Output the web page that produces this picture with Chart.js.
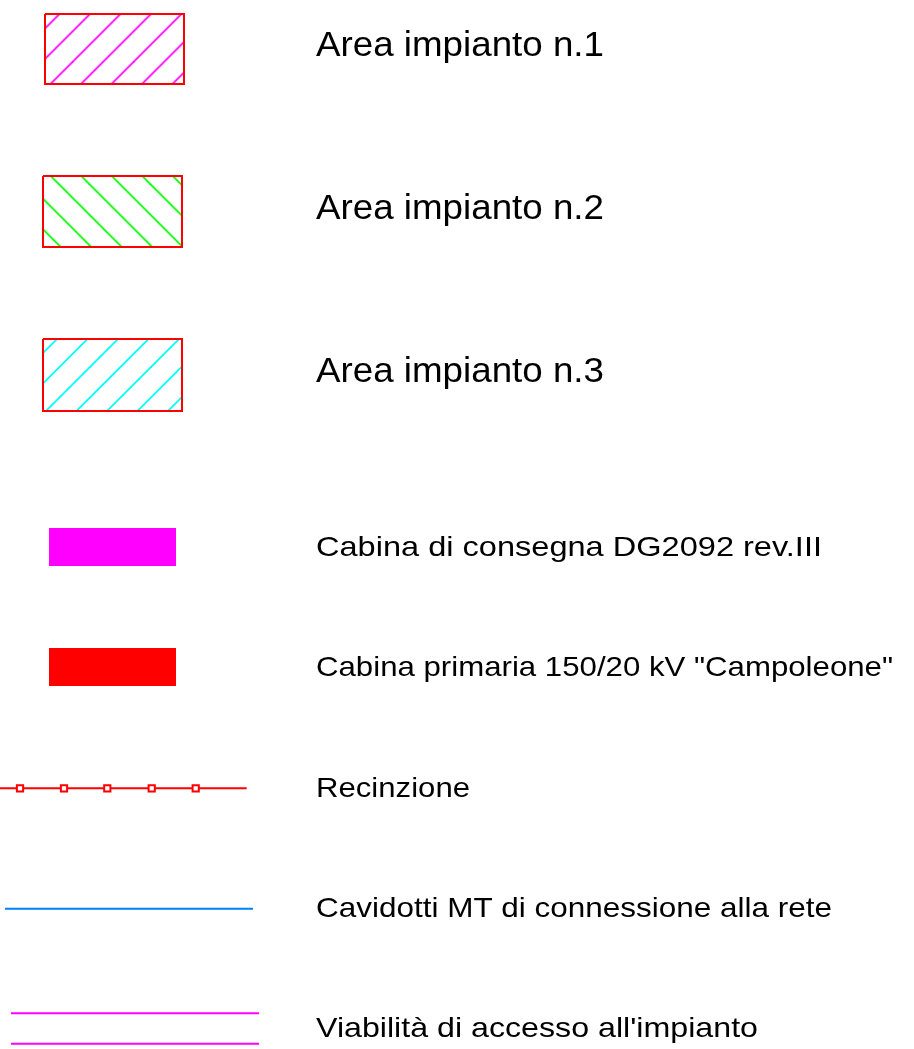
<!DOCTYPE html>
<html>
<head>
<meta charset="utf-8">
<script src="https://cdn.jsdelivr.net/npm/chart.js@4.4.0/dist/chart.umd.min.js"></script>
<style>
    html, body { margin: 0; padding: 0; background: #ffffff; }
    #legendChart { display: block; }
</style>
</head>
<body>
<canvas id="legendChart" width="914" height="1049"></canvas>
<script>
// Voci della legenda (testo, tipo di simbolo, colore)
const legendLabels = [
    'Area impianto n.1',
    'Area impianto n.2',
    'Area impianto n.3',
    'Cabina di consegna DG2092 rev.III',
    'Cabina primaria 150/20 kV "Campoleone"',
    'Recinzione',
    'Cavidotti MT di connessione alla rete',
    "Viabilità di accesso all'impianto"
];
const legendKinds = ['hatch', 'hatch', 'hatch', 'block', 'block', 'fence', 'line', 'road'];
const legendColors = ['#ff00ff', '#00ff00', '#00ffff', '#ff00ff', '#ff0000', '#ff0000', '#007fff', '#ff00ff'];
const hatchDirections = ['/', '\\', '/'];

// Impaginazione (coordinate del foglio, 1 unità = 1 px)
const sheetWidth = 914;
const sheetHeight = 1049;
const textX = 316;
const textBaselines = [56, 219, 382, 555.7, 676.3, 796.7, 916.7, 1037.3];
const textSizes = [35, 35, 35, 28, 28, 28, 28, 28];
const textRight = [604, 604, 604, 822, 893, 470, 832, 758];
const symbolBoxes = [
    [45, 14, 184, 84],
    [43, 176, 182, 247],
    [43, 339, 182, 411],
    [49, 528, 176, 566],
    [49, 648, 176, 686]
];
const hatchPhase = [12.4, 27.3, 30];
const fenceY = 788.3;
const fenceX = [0, 20, 64, 107.3, 151.7, 195.7, 246.7];
const cableY = 908.7;
const cableX = [5, 253];
const roadY = [1013.3, 1043.7];
const roadX = [11, 259];

// Tratteggio a 45° come pattern
function makeHatch(ctx, color, dir, phase) {
    const T = 61;
    const step = 30.5;
    const c = document.createElement('canvas');
    c.width = T;
    c.height = T;
    const g = c.getContext('2d');
    g.strokeStyle = color;
    g.lineWidth = 1.8;
    for (let k = -2; k <= 4; k++) {
        const s = k * step;
        g.beginPath();
        if (dir === '/') {
            g.moveTo(s + 10, -10);
            g.lineTo(s - T - 10, T + 10);
        } else {
            g.moveTo(s - 10, -10);
            g.lineTo(s + T + 10, T + 10);
        }
        g.stroke();
    }
    const pattern = ctx.createPattern(c, 'repeat');
    pattern.setTransform(new DOMMatrix([1, 0, 0, 1, phase, 0]));
    return pattern;
}

function rectPoints(b) {
    return [
        { x: b[0], y: b[1] }, { x: b[2], y: b[1] },
        { x: b[2], y: b[3] }, { x: b[0], y: b[3] },
        { x: b[0], y: b[1] }
    ];
}

function buildDatasets(ctx) {
    const datasets = [];
    legendKinds.forEach((kind, i) => {
        const color = legendColors[i];
        if (kind === 'hatch') {
            datasets.push({
                data: rectPoints(symbolBoxes[i]),
                borderColor: '#ff0000',
                borderWidth: 2,
                backgroundColor: makeHatch(ctx, color, hatchDirections[i], hatchPhase[i]),
                fill: 'shape'
            });
        } else if (kind === 'block') {
            datasets.push({
                data: rectPoints(symbolBoxes[i]),
                borderColor: color,
                borderWidth: 0,
                backgroundColor: color,
                fill: 'shape'
            });
        } else if (kind === 'fence') {
            datasets.push({
                data: fenceX.map(x => ({ x: x, y: fenceY })),
                borderColor: color,
                borderWidth: 2,
                pointStyle: 'rect',
                pointRadius: fenceX.map((x, j) => (j === 0 || j === fenceX.length - 1) ? 0 : 4.4),
                pointBackgroundColor: '#ffffff',
                pointBorderColor: color,
                pointBorderWidth: 2,
                fill: false
            });
        } else if (kind === 'line') {
            datasets.push({
                data: cableX.map(x => ({ x: x, y: cableY })),
                borderColor: color,
                borderWidth: 2,
                fill: false
            });
        } else if (kind === 'road') {
            roadY.forEach(y => {
                datasets.push({
                    data: roadX.map(x => ({ x: x, y: y })),
                    borderColor: color,
                    borderWidth: 2,
                    fill: false
                });
            });
        }
    });
    datasets.forEach(d => {
        d.tension = 0;
        d.clip = false;
        if (d.pointRadius === undefined) d.pointRadius = 0;
    });
    return datasets;
}

// Testi della legenda disegnati sulle scale del grafico
const legendTextPlugin = {
    id: 'legendText',
    afterDatasetsDraw(chart) {
        const ctx = chart.ctx;
        const xs = chart.scales.x;
        const ys = chart.scales.y;
        ctx.save();
        ctx.fillStyle = '#000000';
        ctx.textAlign = 'left';
        ctx.textBaseline = 'alphabetic';
        legendLabels.forEach((label, i) => {
            const left = xs.getPixelForValue(textX);
            const right = xs.getPixelForValue(textRight[i]);
            ctx.save();
            ctx.font = textSizes[i] + 'px "Liberation Sans", Arial, sans-serif';
            const w = ctx.measureText(label).width;
            ctx.translate(left, ys.getPixelForValue(textBaselines[i]));
            ctx.scale((right - left) / w, 1);
            ctx.fillText(label, 0, 0);
            ctx.restore();
        });
        ctx.restore();
    }
};

function initLegendChart() {
    const ctx = document.getElementById('legendChart').getContext('2d');
    return new Chart(ctx, {
        type: 'line',
        data: { datasets: buildDatasets(ctx) },
        options: {
            responsive: false,
            animation: false,
            events: [],
            layout: { padding: 0 },
            scales: {
                x: { type: 'linear', min: 0, max: sheetWidth, display: false },
                y: { type: 'linear', min: 0, max: sheetHeight, reverse: true, display: false }
            },
            plugins: {
                legend: { display: false },
                tooltip: { enabled: false }
            }
        },
        plugins: [legendTextPlugin]
    });
}

document.addEventListener('DOMContentLoaded', () => {
    initLegendChart();
});
</script>
</body>
</html>
